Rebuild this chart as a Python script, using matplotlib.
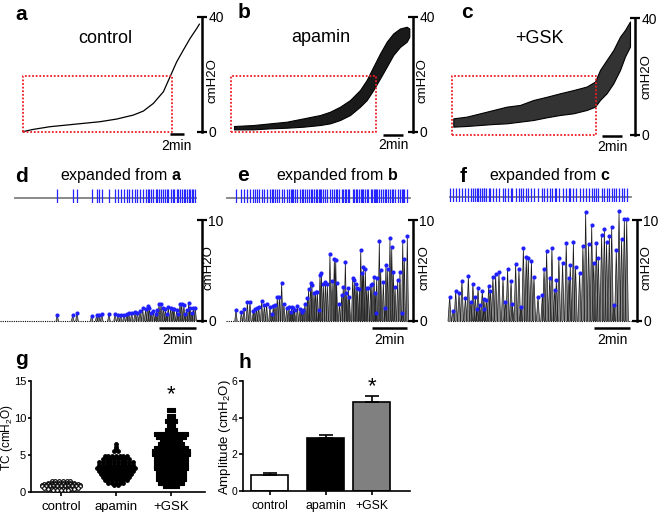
import numpy as np
import matplotlib
matplotlib.use('Agg')
import matplotlib.pyplot as plt
from matplotlib.transforms import offset_copy

plt.rcParams['font.family'] = ['Liberation Sans', 'DejaVu Sans']
plt.rcParams['mathtext.fontset'] = 'custom'
plt.rcParams['mathtext.rm'] = 'Liberation Sans'
plt.rcParams['mathtext.bf'] = 'Liberation Sans:bold'
plt.rcParams['mathtext.it'] = 'Liberation Sans:italic'

# ---- data ----
# a: control pressure trace (min, cmH2O)
a_t = [0, 1.52, 3.90, 6.29, 8.67, 11.05, 13.43, 15.81, 17.24, 18.67, 20.10, 21.05, 22.0, 22.95, 23.90, 24.86, 25.24]
a_v = [0, 0.81, 1.74, 2.32, 2.90, 3.48, 4.40, 5.79, 7.18, 9.85, 13.9, 19.1, 24.3, 28.4, 32.4, 35.9, 37.4]

# b: apamin trace, lower / upper envelope
b_t = [0, 1.93, 3.6, 5.27, 6.93, 8.6, 9.6, 10.6, 11.6, 12.6, 13.27, 13.93, 14.6, 15.27, 15.93, 16.6, 17.27, 17.53]
b_lo = [0.81, 0.81, 1.16, 1.39, 1.74, 2.32, 2.90, 4.06, 5.79, 8.69, 11.0, 14.5, 18.5, 22.6, 26.7, 29.5, 31.3, 33.0]
b_hi = [1.97, 2.32, 2.90, 3.48, 4.63, 5.79, 6.95, 8.69, 11.0, 14.5, 18.0, 22.6, 27.2, 31.3, 34.2, 35.9, 36.5, 35.9]

# c: +GSK trace, lower / upper envelope
c_t = [0, 1.33, 2.67, 4.0, 5.33, 6.67, 8.0, 9.33, 10.67, 12.0, 13.33, 14.17, 14.67, 15.33, 16.0, 16.67, 17.17, 17.67]
c_lo = [2.86, 3.09, 3.43, 3.77, 4.0, 4.57, 5.14, 6.06, 6.86, 7.43, 8.57, 9.71, 12.0, 14.3, 17.7, 22.3, 26.9, 30.3]
c_hi = [5.71, 6.29, 7.43, 8.57, 9.71, 10.3, 12.0, 13.1, 14.3, 15.4, 16.6, 18.3, 22.3, 25.7, 29.1, 33.7, 36.0, 38.9]

# red boxes (start, end in min; height in cmH2O)
box_t0 = [0, -0.25, -0.1]
box_t1 = [21.3, 14.2, 14.3]
box_h = [19.4, 19.4, 20.2]

# d-f: detected contraction peaks (min, cmH2O)
d_t = [2.97, 3.80, 4.03, 4.82, 5.09, 5.20, 5.36, 5.75, 6.08, 6.25, 6.38, 6.56, 6.72, 6.81, 6.97, 7.15,
       7.28, 7.42, 7.56, 7.72, 7.83, 7.92, 8.01, 8.14, 8.26, 8.32, 8.44, 8.55, 8.67, 8.78, 8.85, 8.94,
       9.07, 9.18, 9.25, 9.39, 9.46, 9.57, 9.66, 9.78, 9.84, 9.93, 10.04, 10.11, 10.20, 10.29, 10.39]
d_pk = [0.56, 0.56, 0.83, 0.50, 0.56, 0.63, 0.73, 0.66, 0.73, 0.63, 0.56, 0.63, 0.73, 0.83, 0.83, 0.89,
        0.83, 0.96, 1.32, 1.16, 1.49, 1.29, 0.83, 0.96, 0.66, 1.09, 1.65, 1.65, 1.29, 1.16, 0.66, 1.39,
        1.32, 1.22, 1.16, 1.09, 0.73, 1.72, 1.65, 1.55, 0.66, 1.09, 1.75, 1.32, 0.83, 1.29, 1.29]

e_t = [0.57, 0.88, 1.03, 1.22, 1.37, 1.56, 1.64, 1.75, 1.87, 2.04, 2.19, 2.32, 2.51, 2.61, 2.70, 2.80,
       2.93, 3.05, 3.18, 3.31, 3.47, 3.60, 3.70, 3.75, 3.85, 3.92, 4.08, 4.23, 4.32, 4.42, 4.51, 4.65,
       4.72, 4.84, 4.91, 5.03, 5.12, 5.22, 5.30, 5.37, 5.45, 5.56, 5.68, 5.79, 5.94, 6.06, 6.19, 6.27,
       6.32, 6.48, 6.61, 6.70, 6.82, 6.86, 6.99, 7.05, 7.24, 7.33, 7.43, 7.50, 7.62, 7.70, 7.79, 7.85,
       7.96, 8.04, 8.13, 8.27, 8.34, 8.46, 8.53, 8.57, 8.61, 8.76, 8.84, 8.99, 9.09, 9.14, 9.24, 9.37,
       9.47, 9.56, 9.66, 9.81, 9.94, 10.06, 10.10, 10.19, 10.36]
e_pk = [1.06, 0.86, 1.19, 1.85, 1.88, 0.99, 1.16, 1.25, 1.39, 1.95, 1.55, 1.68, 1.39, 0.73, 1.45, 1.55,
        2.38, 2.38, 3.73, 1.65, 1.25, 1.35, 0.92, 1.35, 1.25, 1.06, 1.49, 1.19, 0.86, 1.06, 1.68, 2.24,
        3.17, 3.76, 3.56, 2.81, 2.90, 2.90, 1.06, 4.55, 4.79, 3.63, 3.86, 3.63, 6.63, 3.96, 6.14, 6.04,
        3.76, 1.65, 2.57, 3.33, 5.87, 2.74, 3.30, 2.41, 4.22, 4.06, 3.63, 3.23, 3.13, 7.03, 4.72, 5.31,
        5.12, 3.23, 3.30, 3.56, 3.63, 4.39, 2.74, 0.76, 4.22, 7.92, 5.05, 3.89, 1.25, 5.54, 5.12, 8.18,
        7.36, 4.88, 3.37, 4.06, 4.88, 0.76, 7.95, 6.14, 8.45]

f_t = [0.09, 0.27, 0.42, 0.60, 0.76, 0.95, 1.11, 1.25, 1.36, 1.49, 1.58, 1.64, 1.73, 1.87, 1.96, 1.98,
       2.09, 2.22, 2.31, 2.45, 2.60, 2.78, 3.00, 3.13, 3.25, 3.44, 3.51, 3.69, 3.87, 3.98, 4.11, 4.27,
       4.38, 4.55, 4.69, 4.91, 5.15, 5.24, 5.38, 5.55, 5.67, 5.82, 5.91, 6.05, 6.25, 6.45, 6.60, 6.67,
       6.84, 6.96, 7.18, 7.36, 7.51, 7.67, 7.84, 7.95, 8.09, 8.20, 8.38, 8.53, 8.65, 8.80, 8.93, 9.05,
       9.18, 9.33, 9.47, 9.62, 9.75]
f_pk = [2.41, 0.99, 3.00, 2.74, 3.99, 2.31, 4.42, 1.85, 3.70, 2.41, 1.16, 3.30, 1.58, 3.00, 2.18, 1.16,
        2.11, 3.47, 3.00, 4.36, 4.65, 4.82, 4.26, 1.85, 5.15, 3.96, 1.68, 5.64, 5.12, 1.42, 7.26, 6.30,
        6.24, 5.94, 4.39, 2.34, 2.57, 5.15, 6.90, 4.29, 7.23, 3.04, 4.06, 6.20, 5.74, 7.76, 4.29, 5.51,
        7.79, 5.35, 4.75, 7.46, 10.83, 7.62, 9.50, 5.78, 7.69, 6.27, 8.55, 9.08, 7.85, 8.45, 9.31, 1.58,
        7.03, 10.89, 8.15, 10.07, 10.07]
trace_start = [0.7, 0.06, 0.1]
trace_end = [10.43, 10.51, 9.96]

# g: threshold contraction values, as rows of the dot plot (level, number of dots)
ctrl_levels = [1.45, 1.25, 1.05, 0.9, 0.75, 0.6, 0.45, 0.3]
ctrl_counts = [6, 8, 10, 11, 11, 10, 8, 5]
apa_levels = [6.5, 6.1, 5.8, 5.6, 4.9, 4.45, 4.0, 3.6, 3.2, 2.8, 2.4, 2.0, 1.6, 1.2, 0.9]
apa_counts = [1, 1, 1, 2, 7, 8, 10, 10, 11, 10, 9, 8, 7, 5, 2]
gsk_levels = [11.05, 10.3, 9.6, 8.9, 8.4, 7.9, 7.45, 7.0, 6.5, 6.0, 5.5, 5.1, 4.7, 4.2, 3.7, 3.2, 2.7, 2.2, 1.7, 1.2, 0.8]
gsk_counts = [2, 2, 3, 2, 3, 9, 8, 6, 7, 9, 10, 10, 9, 9, 9, 9, 8, 8, 8, 7, 4]

# h: amplitude
groups = ['control', 'apamin', '+GSK']
amp_mean = [0.9, 2.9, 4.85]
amp_sem = [0.08, 0.17, 0.33]

# ---- figure ----
W, H = 660, 512
fig = plt.figure(figsize=(6.6, 5.12), dpi=100)


def px_axes(left, top, right, bottom):
    return fig.add_axes([left / W, 1 - bottom / H, (right - left) / W, (bottom - top) / H])


def px_text(x, y, s, **kw):
    fig.text(x / W, 1 - y / H, s, **kw)


def trace_axes(left, top, right, bottom, t0, px_per_min, ytop):
    ax = px_axes(left, top, right, bottom)
    ax.set_xlim(t0, t0 + (right - left) / px_per_min)
    ax.set_ylim(0, ytop)
    for side in ['left', 'top', 'bottom']:
        ax.spines[side].set_visible(False)
    ax.spines['right'].set_linewidth(1.8)
    ax.set_xticks([])
    ax.yaxis.tick_right()
    ax.set_yticks([0, ytop])
    ax.tick_params(axis='y', direction='inout', length=7, width=1.6, labelsize=10, pad=1)
    ax.patch.set_alpha(0)
    return ax


def scale_bar(ax, t1, bar_below, text_below):
    tr = offset_copy(ax.transData, fig=fig, y=-bar_below, units='dots')
    ax.plot([t1, t1 + 2], [0, 0], transform=tr, color='k', lw=1.8, clip_on=False, solid_capstyle='butt')
    tr = offset_copy(ax.transData, fig=fig, y=-text_below, units='dots')
    ax.text(t1 + 1, 0, '2min', transform=tr, ha='center', va='top', fontsize=10)


def red_box(ax, t0, t1, h):
    ax.plot([t0, t1, t1, t0, t0], [0, 0, h, h, 0], color='#ee1c24', lw=1.3,
            ls=(0, (1, 1)), clip_on=False, zorder=4)


def spikes(ax, times, peaks, w):
    for t, p in zip(times, peaks):
        ax.fill([t - w, t, t + w], [0, p, 0], color='0.55', lw=0, clip_on=False)
        ax.plot([t - w, t, t + w], [0, p, 0], color='0.1', lw=0.5, clip_on=False)
    ax.plot(times, peaks, 'o', color='#1f1fff', ms=3, mew=0, clip_on=False, zorder=5)


def raster(left, top, right, t0, px_per_min, times, t_start, t_end):
    ax = px_axes(left, top, right, top + 14)
    ax.set_xlim(t0, t0 + (right - left) / px_per_min)
    ax.set_ylim(0, 1)
    ax.axis('off')
    ax.plot([t_start, t_end], [0.38, 0.38], color='0.5', lw=1.3)
    ax.eventplot(times, colors='#2424ff', lineoffsets=0.5, linelengths=1, linewidths=0.9)


# top row: a, b, c
ax = trace_axes(22, 16.7, 202, 131.7, -0.1, 7, 40)
ax.plot(a_t, a_v, color='k', lw=0.9, clip_on=False)
red_box(ax, box_t0[0], box_t1[0], box_h[0])
scale_bar(ax, 21.0, 2.5, 7.5)

ax = trace_axes(231, 16.7, 413, 131.7, -0.3, 10, 40)
ax.fill_between(b_t, b_lo, b_hi, color='0.1', lw=0.8, edgecolor='k', clip_on=False)
red_box(ax, box_t0[1], box_t1[1], box_h[1])
scale_bar(ax, 14.9, 3.3, 6.5)

ax = trace_axes(451, 18.3, 635, 135, -0.23, 10, 40)
ax.fill_between(c_t, c_lo, c_hi, color='0.2', lw=0.8, edgecolor='k', clip_on=False)
red_box(ax, box_t0[2], box_t1[2], box_h[2])
scale_bar(ax, 14.9, 1, 5)

# middle row: d, e, f
ax = trace_axes(2, 220, 202, 321, 0, 18.6, 10)
ax.plot([-0.1, trace_end[0]], [0, 0], color='k', lw=0.8, ls=(0, (1, 1)), clip_on=False)
spikes(ax, d_t, d_pk, 0.07)
scale_bar(ax, 8.45, 7, 12)
raster(2, 189, 202, 0, 18.6, d_t, trace_start[0], trace_end[0])

ax = trace_axes(226, 220, 413, 321, 0, 17.5, 10)
ax.plot([0, trace_end[1]], [0, 0], color='k', lw=0.8, ls=(0, (1, 1)), clip_on=False)
spikes(ax, e_t, e_pk, 0.07)
scale_bar(ax, 8.34, 6.7, 12)
raster(226, 189, 413, 0, 17.5, e_t, trace_start[1], trace_end[1])

ax = trace_axes(448, 220, 637, 321, 0, 18.33, 10)
ax.plot([0, trace_end[2]], [0, 0], color='k', lw=0.8, ls=(0, (1, 1)), clip_on=False)
spikes(ax, f_t, f_pk, 0.09)
scale_bar(ax, 7.95, 7, 12)
raster(448, 188, 637, 0, 18.33, f_t, trace_start[2], trace_end[2])

# cmH2O labels next to the vertical scale bars
for x, y in [(212, 81), (423, 81), (646, 77), (209, 268), (424, 268), (647, 268)]:
    px_text(x, y, 'cmH2O', rotation=90, ha='center', va='center', fontsize=9.5)

# titles
px_text(105, 43, 'control', ha='center', va='baseline', fontsize=13)
px_text(321, 42, 'apamin', ha='center', va='baseline', fontsize=13)
px_text(539, 43, '+GSK', ha='center', va='baseline', fontsize=13)
px_text(121, 180, r'expanded from $\mathbf{a}$', ha='center', va='baseline', fontsize=11.5)
px_text(337, 180, r'expanded from $\mathbf{b}$', ha='center', va='baseline', fontsize=11.5)
px_text(550, 180, r'expanded from $\mathbf{c}$', ha='center', va='baseline', fontsize=11.5)

# panel letters
for s, x, y in [('a', 15, 20), ('b', 238, 18), ('c', 461, 18), ('d', 15, 182), ('e', 237, 181),
                ('f', 460, 182), ('g', 15, 365), ('h', 238, 368)]:
    px_text(x, y, s, ha='left', va='baseline', fontsize=15, fontweight='bold')

# g: dot plot
axg = px_axes(31, 381, 205, 492)
axg.set_xlim(0.455, 3.62)
axg.set_ylim(0, 15)
step = 0.068
for x, levels, counts, marker, face in [(1, ctrl_levels, ctrl_counts, 'o', 'white'),
                                         (2, apa_levels, apa_counts, 'o', 'black'),
                                         (3, gsk_levels, gsk_counts, 's', 'black')]:
    for lev, n in zip(levels, counts):
        xs = x + (np.arange(n) - (n - 1) / 2) * step
        axg.scatter(xs, np.full(n, lev), s=7, marker=marker, facecolor=face,
                    edgecolor='black', linewidth=0.8, clip_on=False, zorder=3)
axg.spines['top'].set_visible(False)
axg.spines['right'].set_visible(False)
for side in ['left', 'bottom']:
    axg.spines[side].set_linewidth(1.2)
axg.set_xticks([1, 2, 3])
axg.set_xticklabels(groups)
axg.set_yticks([0, 5, 10, 15])
axg.tick_params(axis='x', length=3, width=1.2, labelsize=9.5)
axg.tick_params(axis='y', length=2.5, width=1.2, labelsize=8, pad=1)
px_text(7.3, 437, 'TC (cmH$_2$O)', rotation=90, ha='center', va='center', fontsize=8.6)
axg.text(3, 13.1, '*', ha='center', va='center', fontsize=16)

# h: bar chart
axh = px_axes(243, 381, 410, 491)
pos = [0, 1, 1.82]
axh.bar(pos, amp_mean, width=0.66, color=['white', 'black', '0.5'], edgecolor='black', linewidth=1.2, zorder=2)
axh.errorbar(pos, amp_mean, yerr=[np.zeros(3), amp_sem], fmt='none', ecolor='black',
             elinewidth=1.2, capsize=5, capthick=1.2, zorder=3)
axh.set_xlim(-0.48, 2.5)
axh.set_ylim(0, 6)
axh.spines['top'].set_visible(False)
axh.spines['right'].set_visible(False)
for side in ['left', 'bottom']:
    axh.spines[side].set_linewidth(1.2)
axh.set_xticks(pos)
axh.set_xticklabels(groups)
axh.set_yticks([0, 2, 4, 6])
axh.tick_params(axis='x', length=3, width=1.2, labelsize=8.8)
axh.tick_params(axis='y', length=3, width=1.2, labelsize=7.5, pad=1)
px_text(225, 437, 'Amplitude (cmH$_2$O)', rotation=90, ha='center', va='center', fontsize=9.5)
axh.text(pos[2], 5.7, '*', ha='center', va='center', fontsize=16)

fig.savefig('out.png', dpi=100)
